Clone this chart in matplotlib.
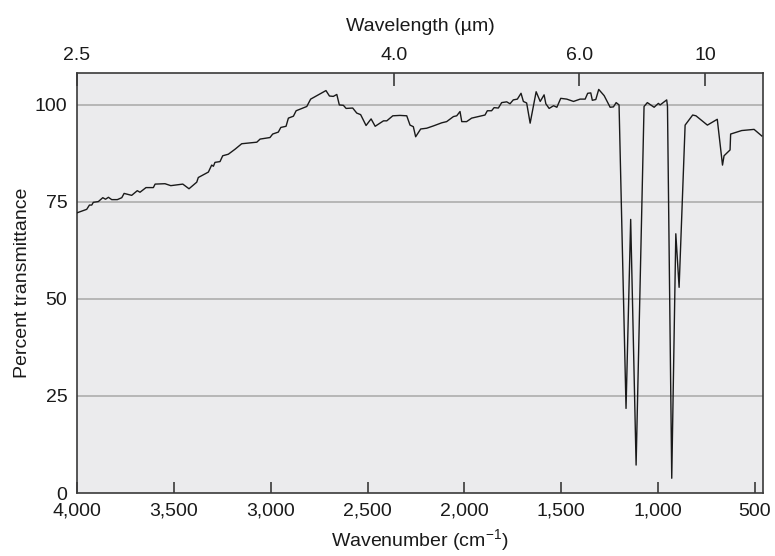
import matplotlib
matplotlib.use("Agg")
import matplotlib.pyplot as plt

plt.rcParams['font.family'] = ['Liberation Sans', 'DejaVu Sans']
plt.rcParams['mathtext.default'] = 'regular'

# Spectrum: wavenumber (cm^-1) and percent transmittance
wavenumber = [4000, 3950, 3936, 3924, 3916, 3890, 3867, 3853, 3838, 3821, 3792, 3769,
              3757, 3718, 3689, 3675, 3644, 3606, 3597, 3546, 3516, 3454, 3422, 3382,
              3374, 3322, 3305, 3296, 3288, 3262, 3248, 3219, 3184, 3150, 3072, 3055,
              3004, 2990, 2961, 2948, 2921, 2909, 2883, 2869, 2814, 2794, 2754, 2715,
              2697, 2677, 2659, 2646, 2625, 2611, 2577, 2556, 2536, 2508, 2482, 2461,
              2418, 2401, 2370, 2333, 2298, 2281, 2264, 2252, 2226, 2195, 2160, 2117,
              2092, 2057, 2040, 2023, 2014, 1989, 1963, 1894, 1882, 1860, 1847, 1825,
              1808, 1782, 1765, 1748, 1727, 1708, 1696, 1679, 1661, 1630, 1609, 1589,
              1580, 1563, 1540, 1523, 1503, 1472, 1437, 1420, 1403, 1377, 1364, 1348,
              1340, 1322, 1307, 1279, 1248, 1231, 1217, 1202, 1166, 1142, 1114, 1073,
              1056, 1021, 999, 990, 956, 952, 930, 909, 892, 861, 822, 805, 746, 695,
              668, 660, 629, 626, 569, 505, 465]
transmittance = [72.2, 73.1, 74.2, 74.2, 74.9, 75.1, 76.1, 75.7, 76.2, 75.6, 75.6, 76.1,
                 77.2, 76.7, 77.9, 77.5, 78.7, 78.7, 79.6, 79.7, 79.2, 79.6, 78.4, 80.1,
                 81.3, 82.7, 84.5, 84.2, 85.2, 85.4, 86.9, 87.3, 88.6, 90.0, 90.4, 91.2,
                 91.6, 92.5, 93.0, 94.2, 94.5, 96.6, 97.1, 98.5, 99.6, 101.5, 102.6, 103.7,
                 102.3, 102.2, 102.7, 100.0, 99.9, 99.1, 99.2, 97.9, 97.5, 94.7, 96.4, 94.5,
                 95.9, 95.9, 97.2, 97.3, 97.2, 94.8, 94.4, 91.8, 93.8, 94.0, 94.6, 95.4,
                 95.7, 97.0, 97.2, 98.3, 95.7, 95.7, 96.6, 97.4, 98.5, 98.5, 99.3, 99.2,
                 100.6, 100.8, 100.3, 101.3, 101.5, 103.0, 100.9, 100.5, 95.3, 103.4, 100.9, 102.6,
                 100.3, 99.1, 99.8, 99.4, 101.7, 101.5, 100.9, 101.2, 101.5, 101.5, 103.0, 103.1,
                 101.2, 101.4, 104.0, 102.4, 99.4, 99.5, 100.6, 100.0, 21.8, 70.5, 7.2, 99.6,
                 100.6, 99.4, 100.4, 100.0, 101.3, 99.6, 3.8, 66.8, 53.0, 94.8, 97.4, 97.2, 94.8, 96.3,
                 84.5, 86.9, 88.4, 92.5, 93.4, 93.7, 92.0]

x_ticks = [4000, 3500, 3000, 2500, 2000, 1500, 1000, 500]
x_tick_labels = ['4,000', '3,500', '3,000', '2,500', '2,000', '1,500', '1,000', '500']
y_ticks = [0, 25, 50, 75, 100]
y_tick_labels = ['0', '25', '50', '75', '100']
wavelength_tick_pos = [4000, 2364, 1408, 758]
wavelength_labels = ['2.5', '4.0', '6.0', '10']

FS = 14
TXT = '#1a1a1a'

fig = plt.figure(figsize=(7.75, 5.56), dpi=100)
ax = fig.add_axes([0.0994, 0.1133, 0.8851, 0.7559])
ax.set_facecolor('#ebebed')
for s in ax.spines.values():
    s.set_color('#3a3a3a')
    s.set_linewidth(1.2)

ax.plot(wavenumber, transmittance, color='#1a1a1a', linewidth=1.0, zorder=3)
ax.set_xlim(4000, 459)
ax.set_ylim(0, 108.3)

for yv in y_ticks[1:]:
    ax.axhline(yv, color='#b2b2b2', linewidth=1.3, zorder=1)

ax.set_xticks(x_ticks)
ax.set_xticklabels(x_tick_labels)
ax.set_yticks(y_ticks)
ax.set_yticklabels(y_tick_labels)
ax.tick_params(axis='x', direction='in', length=8, width=1.2, color='#3a3a3a',
               labelsize=FS, pad=7, labelcolor=TXT)
ax.tick_params(axis='y', length=0, labelsize=FS, pad=7, labelcolor=TXT)

ax.set_xlabel('Wavenumber (cm$^{-1}$)', fontsize=FS, color=TXT, labelpad=5)
ax.set_ylabel('Percent transmittance', fontsize=FS, color=TXT, labelpad=3)

ax2 = ax.twiny()
ax2.set_xlim(ax.get_xlim())
ax2.set_xticks(wavelength_tick_pos)
ax2.set_xticklabels(wavelength_labels)
ax2.tick_params(axis='x', direction='in', length=9, width=1.2, color='#3a3a3a',
                labelsize=FS, pad=6, labelcolor=TXT)
ax2.set_xlabel('Wavelength (\u00b5m)', fontsize=FS, color=TXT, labelpad=12)
for s in ax2.spines.values():
    s.set_visible(False)

fig.savefig('out.png', dpi=100)
